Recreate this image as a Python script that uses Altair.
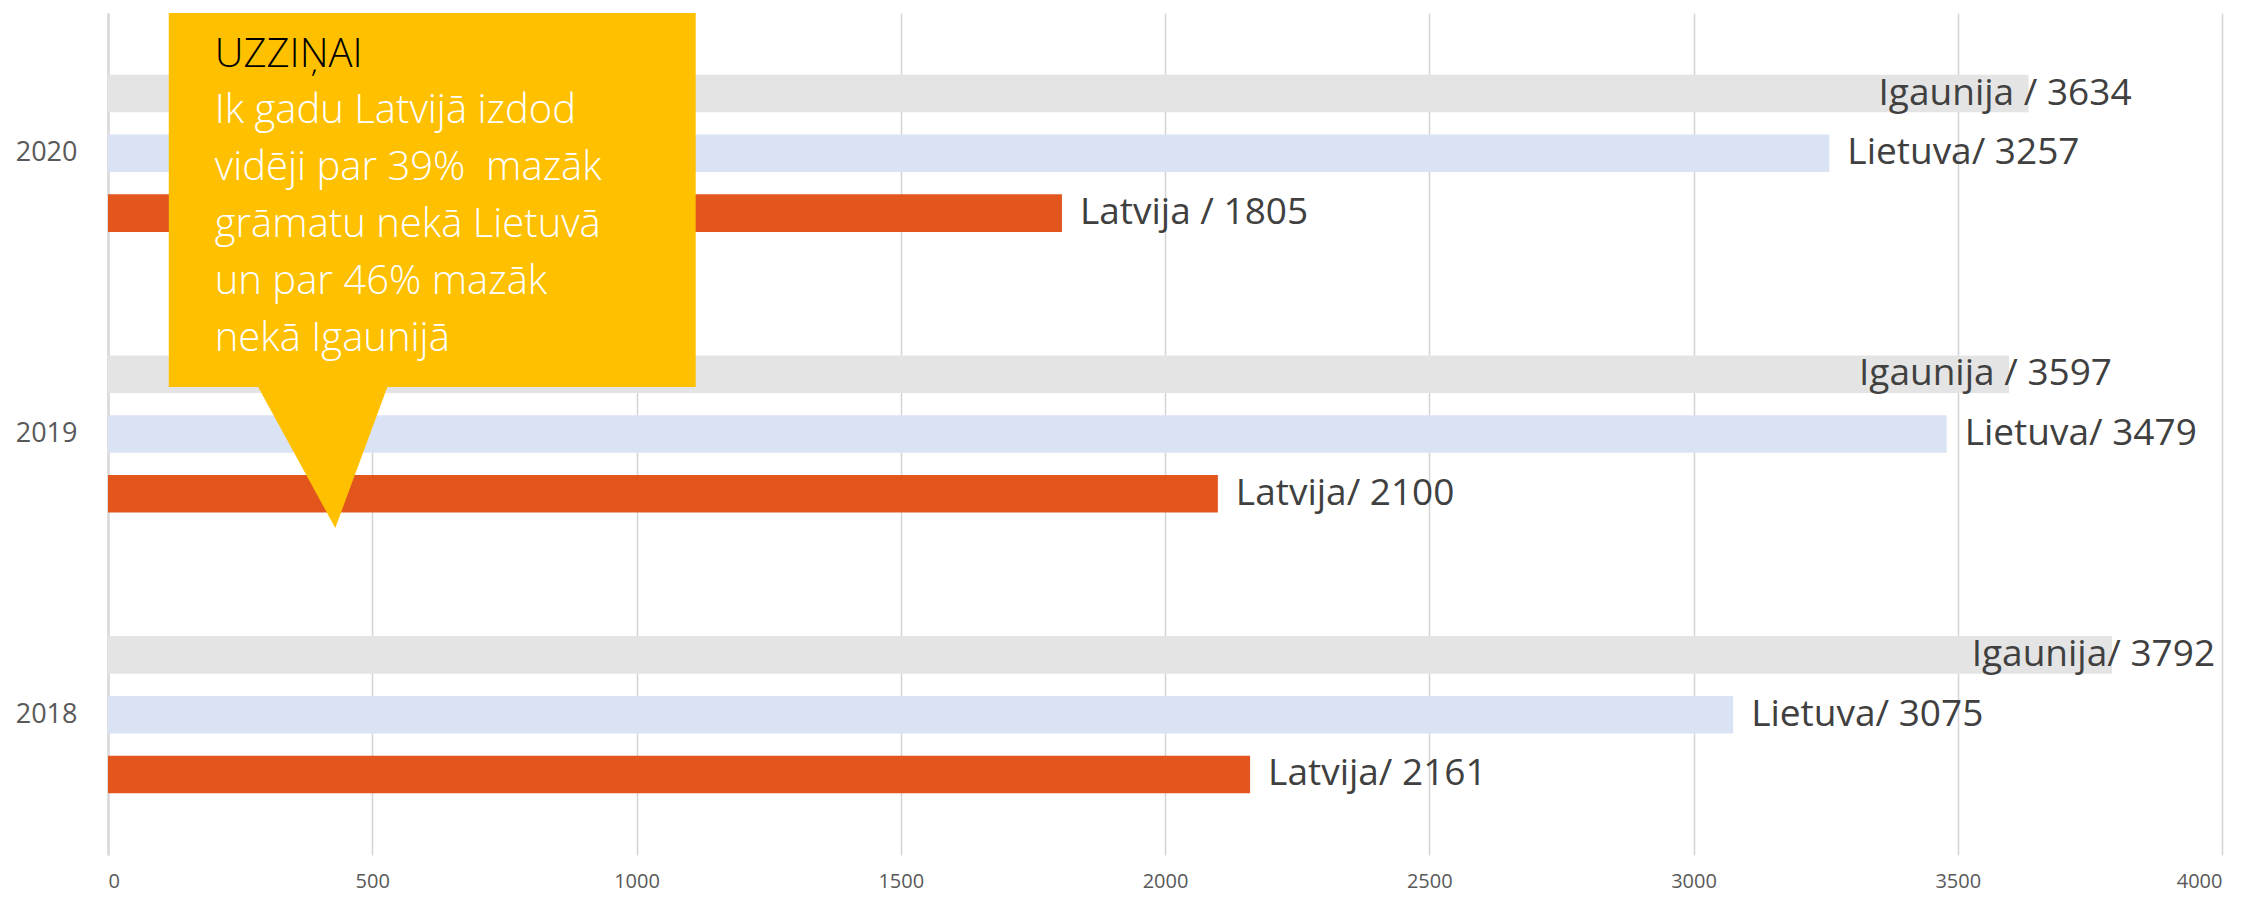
import altair as alt
import pandas as pd

# ---- data ----
years = ["2020", "2019", "2018"]
countries = ["Igaunija", "Lietuva", "Latvija"]
igaunija = [3634, 3597, 3792]
lietuva = [3257, 3479, 3075]
latvija = [1805, 2100, 2161]
igaunija_labels = ["Igaunija / 3634", "Igaunija / 3597", "Igaunija/ 3792"]
lietuva_labels = ["Lietuva/ 3257", "Lietuva/ 3479", "Lietuva/ 3075"]
latvija_labels = ["Latvija / 1805", "Latvija/ 2100", "Latvija/ 2161"]
x_ticks = [0, 500, 1000, 1500, 2000, 2500, 3000, 3500, 4000]
colors = ["#E4E4E4", "#DAE3F3", "#E2561E"]

callout_title = "UZZIŅAI"
callout_lines = [
    "Ik gadu Latvijā izdod",
    "vidēji par 39%\u00a0 mazāk",
    "grāmatu nekā Lietuvā",
    "un par 46% mazāk",
    "nekā Igaunijā",
]

# ---- tables ----
rows = []
for c, vals, labs in zip(countries, [igaunija, lietuva, latvija],
                         [igaunija_labels, lietuva_labels, latvija_labels]):
    for yr, v, lb in zip(years, vals, labs):
        rows.append({"year": yr, "country": c, "value": v, "label": lb})
df = pd.DataFrame(rows)

W, H = 2114, 842
XDOM = [0, 4000]
FONT = "Open Sans"

x_enc = alt.X("value:Q", scale=alt.Scale(domain=XDOM, nice=False, zero=True),
              axis=alt.Axis(values=x_ticks, title=None, grid=True, ticks=False,
                            domain=False, labelFontSize=20, labelColor="#595959",
                            labelFont=FONT, labelPadding=16, gridColor="#D4D4D4",
                            gridWidth=1.5, format="d"))
y_enc = alt.Y("year:N", sort=years,
              scale=alt.Scale(paddingInner=0.0142, paddingOuter=0.0071),
              axis=alt.Axis(title=None, ticks=False, domain=True,
                            domainColor="#D9D9D9", domainWidth=2.5,
                            labelFontSize=27, labelColor="#595959",
                            labelFont=FONT, labelPadding=31))
yoff_enc = alt.YOffset("country:N", sort=countries,
                       scale=alt.Scale(paddingInner=0.372, paddingOuter=1.0))

base = alt.Chart(df)
bars = base.mark_bar().encode(
    x=x_enc, y=y_enc, yOffset=yoff_enc,
    color=alt.Color("country:N", scale=alt.Scale(domain=countries, range=colors),
                    legend=None),
)
labels_lr = base.transform_filter(alt.datum.country != "Igaunija").mark_text(
    align="left", baseline="middle", dx=18, font=FONT, fontSize=37, color="#404040"
).encode(x="value:Q", y=alt.Y("year:N", sort=years), yOffset=yoff_enc, text="label:N")
labels_ig = base.transform_filter(alt.datum.country == "Igaunija").mark_text(
    align="right", baseline="middle", dx=103, font=FONT, fontSize=37, color="#404040"
).encode(x="value:Q", y=alt.Y("year:N", sort=years), yOffset=yoff_enc, text="label:N")

bar_layer = alt.layer(bars, labels_lr, labels_ig)

# ---- callout annotation (x in data units, y in plot pixels from top) ----
box_df = pd.DataFrame({"x": [115], "x2": [1112], "y": [0], "y2": [374]})
tri_df = pd.DataFrame({"x": [282, 430, 530], "y": [372, 515, 372], "y0": [372, 372, 372]})
title_df = pd.DataFrame({"x": [202], "y": [54], "t": [callout_title]})
body_df = pd.DataFrame({"x": [202], "y": [110], "t": ["\n".join(callout_lines)]})

ax = alt.Scale(domain=XDOM, nice=False, zero=True)
ay = alt.Scale(domain=[0, H], nice=False, zero=False, reverse=True)

box = alt.Chart(box_df).mark_rect(color="#FFC000").encode(
    x=alt.X("x:Q", scale=ax, axis=None), x2="x2:Q",
    y=alt.Y("y:Q", scale=ay, axis=None), y2="y2:Q")
tri = alt.Chart(tri_df).mark_area(color="#FFC000").encode(
    x=alt.X("x:Q", scale=ax, axis=None),
    y=alt.Y("y:Q", scale=ay, axis=None), y2="y0:Q")
ttl = alt.Chart(title_df).mark_text(
    align="left", baseline="alphabetic", font=FONT, fontSize=40, fontWeight=300,
    color="#000000").encode(
    x=alt.X("x:Q", scale=ax, axis=None), y=alt.Y("y:Q", scale=ay, axis=None), text="t:N")
body = alt.Chart(body_df).mark_text(
    align="left", baseline="alphabetic", font=FONT, fontSize=40, fontWeight=300,
    color="#FFFFFF", lineBreak="\n", lineHeight=57).encode(
    x=alt.X("x:Q", scale=ax, axis=None), y=alt.Y("y:Q", scale=ay, axis=None), text="t:N")

annot = alt.layer(box, tri, ttl, body)

chart = alt.layer(bar_layer, annot).resolve_scale(
    x="independent", y="independent"
).properties(
    width=W, height=H,
    padding={"left": 7, "top": 5, "right": 5, "bottom": 5},
).configure_view(stroke=None)

chart.save("out.html", embed_options={"renderer": "svg", "actions": False})
